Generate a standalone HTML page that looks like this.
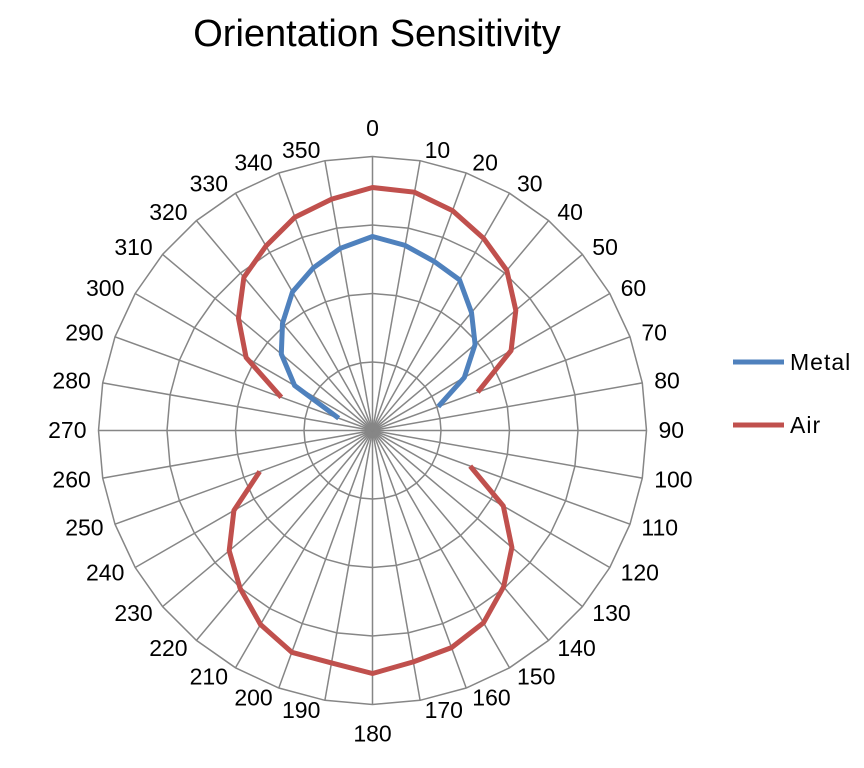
<!DOCTYPE html>
<html><head><meta charset="utf-8"><style>
body{margin:0;background:#fff;}
svg{display:block;font-family:"Liberation Sans",sans-serif;}
</style></head><body>
<svg id="s" width="864" height="768" xmlns="http://www.w3.org/2000/svg">
<rect width="864" height="768" fill="#fff"/>
<text x="377" y="46" font-size="38" text-anchor="middle" fill="#000">Orientation Sensitivity</text>
<g id="grid" stroke="#868686" stroke-width="1.5" fill="none"></g>
<g id="lab" font-size="23" fill="#000"></g>
<polyline id="metal" fill="none" stroke="#4f81bd" stroke-width="5" stroke-linejoin="round"/>
<polyline id="air1" fill="none" stroke="#c0504d" stroke-width="5" stroke-linejoin="round"/>
<polyline id="air2" fill="none" stroke="#c0504d" stroke-width="5" stroke-linejoin="round"/>
<line x1="733" y1="362" x2="784" y2="362" stroke="#4f81bd" stroke-width="5"/>
<text x="790" y="370" font-size="23" letter-spacing="1">Metal</text>
<line x1="733" y1="425" x2="784" y2="425" stroke="#c0504d" stroke-width="5"/>
<text x="790" y="433" font-size="23" letter-spacing="1">Air</text>
</svg>
<script>
var cx=372.5,cy=430.5,R=274;
function pt(a,r){var t=a*Math.PI/180;return [cx+r*Math.sin(t),cy-r*Math.cos(t)];}
var g=document.getElementById('grid'),h='';
for(var k=1;k<=4;k++){var p=[];for(var a=0;a<360;a+=10){var q=pt(a,R*k/4);p.push(q[0].toFixed(1)+','+q[1].toFixed(1));}h+='<polygon points="'+p.join(' ')+'"/>';}
for(var a=0;a<360;a+=10){var q=pt(a,R);h+='<line x1="'+cx+'" y1="'+cy+'" x2="'+q[0].toFixed(1)+'" y2="'+q[1].toFixed(1)+'"/>';}
g.innerHTML=h;
var l='';
for(var a=0;a<360;a+=10){var q=pt(a,R),t=a*Math.PI/180,s=Math.sin(t),c=Math.cos(t),x,y,anc;
 if(a==0){x=cx;y=q[1]-20.5;anc='middle';}
 else if(a==180){x=cx;y=q[1]+37;anc='middle';}
 else{var xo=3+9*Math.abs(s);y=q[1]-3+21*(1-c)/2;if(a<180){x=q[0]+xo;anc='start';}else{x=q[0]-xo;anc='end';}}
 l+='<text text-anchor="'+anc+'" x="'+x.toFixed(1)+'" y="'+y.toFixed(1)+'">'+a+'</text>';}
document.getElementById('lab').innerHTML=l;
function line(id,arr){document.getElementById(id).setAttribute('points',arr.map(function(d){var q=pt(d[0],d[1]);return q[0].toFixed(1)+','+q[1].toFixed(1);}).join(' '));}
line('metal',[[290,36],[300,90],[310,119],[320,140],[330,160],[340,173],[350,185],[360,194],[370,188],[380,180],[390,174],[400,154],[410,134],[420,106],[430,70]]);
line('air1',[[290,97],[300,146],[310,175],[320,200],[330,213],[340,227],[350,235],[360,243],[370,242],[380,234],[390,222],[400,209],[410,187],[420,160],[430,112]]);
line('air2',[[110,104],[120,151],[130,182],[140,204],[150,222],[160,231],[170,235],[180,243],[190,236],[200,236],[210,224],[220,206],[230,187],[240,160],[250,120]]);
</script>
</body></html>
